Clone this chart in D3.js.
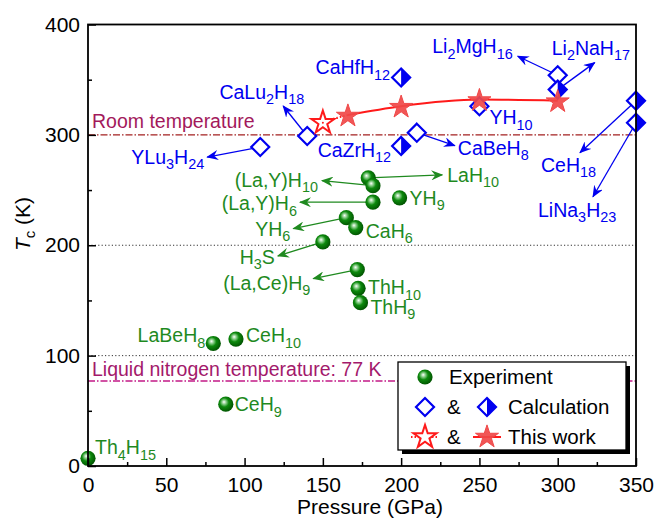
<!DOCTYPE html>
<html><head><meta charset="utf-8">
<script src="https://cdn.jsdelivr.net/npm/d3@7"></script>
<style>body{margin:0;background:#fff} svg{display:block} text{font-family:"Liberation Sans",Arial,sans-serif}</style>
</head><body><svg id="c" width="655" height="519"></svg>
<script>
// ---------- data ----------
const expNames = ["Th4H15","CeH9","LaBeH8","CeH10","ThH10","ThH9","(La,Ce)H9","H3S","YH6","CaH6","(La,Y)H6","LaH10","(La,Y)H10","YH9"];
const expP     = [0, 88, 80, 94.5, 172.5, 174, 172, 150, 165, 171, 182, 179, 182, 199];
const expTc    = [7, 56, 111, 115, 161, 148, 178, 203, 225, 216, 239, 261, 254, 243];
const calcOpenNames = ["YLu3H24","CaLu2H18","CaBeH8","YH10","Li2MgH16"];
const calcOpenP     = [110, 140, 210, 250, 300];
const calcOpenTc    = [289, 299, 302, 326, 354];
const calcHalfNames = ["CaHfH12","CaZrH12","Li2NaH17","CeH18","LiNa3H23"];
const calcHalfP     = [200, 200, 300, 350, 350];
const calcHalfTc    = [352, 290, 341, 331, 311];
const workP  = [150, 166, 200, 250, 300];
const workTc = [312, 318, 326, 332, 331];
const xTicks = [0, 50, 100, 150, 200, 250, 300, 350];
const yTicks = [0, 100, 200, 300, 400];
const roomT = 300, ln2T = 77;
const guideT = [100, 200];

// ---------- label layout (pixel offsets from the point) ----------
const layout = {
  "Th4H15":    {dx:7,   dy:-11, a:"start"},
  "CeH9":      {dx:9,   dy:0,   a:"start"},
  "LaBeH8":    {dx:-8,  dy:-8,  a:"end"},
  "CeH10":     {dx:10,  dy:-4,  a:"start"},
  "ThH10":     {dx:10,  dy:-1,  a:"start"},
  "ThH9":      {dx:10,  dy:4,   a:"start"},
  "(La,Ce)H9": {dx:-47, dy:13,  a:"end", ax:-44, ay:9},
  "H3S":       {dx:-48, dy:15,  a:"end", ax:-45, ay:14},
  "YH6":       {dx:-56, dy:11,  a:"end", ax:-53, ay:11},
  "CaH6":      {dx:10,  dy:3,   a:"start"},
  "(La,Y)H6":  {dx:-76, dy:1,   a:"end", ax:-73, ay:0},
  "LaH10":     {dx:79,  dy:-3,  a:"start", ax:74, ay:-3},
  "(La,Y)H10": {dx:-55, dy:-6,  a:"end", ax:-51, ay:-5},
  "YH9":       {dx:10,  dy:0,   a:"start"},
  "YLu3H24":   {dx:-56, dy:10,  a:"end", ax:-53, ay:10},
  "CaLu2H18":  {dx:-3,  dy:-44, a:"end", ax:-24, ay:-30},
  "CaBeH8":    {dx:41,  dy:15,  a:"start", ax:38, ay:13},
  "YH10":      {dx:10,  dy:11,  a:"start"},
  "Li2MgH16":  {dx:-45, dy:-29, a:"end", ax:-40, ay:-19},
  "CaHfH12":   {dx:-11, dy:-10, a:"end"},
  "CaZrH12":   {dx:-10, dy:4,   a:"end"},
  "Li2NaH17":  {dx:-6,  dy:-42, a:"start", ax:37, ay:-27},
  "CeH18":     {dx:-95, dy:64,  a:"start", ax:-56, ay:52},
  "LiNa3H23":  {dx:-98, dy:87,  a:"start", ax:-43, ay:74}
};

const GREEN = "#1f8a1f", BLUE = "#0000f0", RED = "#ff1a1a";
const svg = d3.select("#c");
const L = 88, R = 636, T = 24.5, B = 466;
const x = d3.scaleLinear().domain([0, 350]).range([L, R]);
const y = d3.scaleLinear().domain([0, 400]).range([B, T]);

const defs = svg.append("defs");
const g = defs.append("radialGradient").attr("id", "sph").attr("cx", "0.42").attr("cy", "0.42").attr("r", "0.6").attr("fx", "0.38").attr("fy", "0.35");
g.append("stop").attr("offset", "0").attr("stop-color", "#ffffff");
g.append("stop").attr("offset", "0.22").attr("stop-color", "#8fd08f");
g.append("stop").attr("offset", "0.5").attr("stop-color", "#0d8a0d");
g.append("stop").attr("offset", "1").attr("stop-color", "#005200");
function marker(id, col) {
  defs.append("marker").attr("id", id).attr("viewBox", "0 0 12 10").attr("refX", 11).attr("refY", 5)
    .attr("markerWidth", 12).attr("markerHeight", 10).attr("markerUnits", "userSpaceOnUse").attr("orient", "auto")
    .append("path").attr("d", "M0,0 L12,5 L0,10 L4,5 Z").attr("fill", col);
}
marker("ag", GREEN); marker("ab", BLUE);

// ---------- chemical formula text ----------
function chem(sel, name, fs) {
  const parts = name.match(/\d+|\D+/g);
  let sub = false; const sh = fs * 0.28;
  parts.forEach(p => {
    const isD = /^\d+$/.test(p);
    const t = sel.append("tspan").text(p);
    if (isD) { t.attr("font-size", fs * 0.74); if (!sub) t.attr("dy", sh); sub = true; }
    else { if (sub) t.attr("dy", -sh); sub = false; }
  });
}

// ---------- guides ----------
guideT.forEach(v => svg.append("line").attr("x1", L).attr("x2", R).attr("y1", y(v)).attr("y2", y(v))
  .attr("stroke", "#333").attr("stroke-width", 1).attr("stroke-dasharray", "1.2,2.2"));
svg.append("line").attr("x1", L).attr("x2", R).attr("y1", y(roomT)).attr("y2", y(roomT))
  .attr("stroke", "#a32020").attr("stroke-width", 1.4).attr("stroke-dasharray", "7,2,1.5,2");
svg.append("line").attr("x1", L).attr("x2", R).attr("y1", y(ln2T)).attr("y2", y(ln2T))
  .attr("stroke", "#c21a86").attr("stroke-width", 1.4).attr("stroke-dasharray", "7,2,1.5,2");
svg.append("text").attr("x", 92).attr("y", y(roomT) - 14 + 7).attr("font-size", 19.5).attr("fill", "#a3195b").text("Room temperature");
svg.append("text").attr("x", 92).attr("y", y(ln2T) - 12 + 7).attr("font-size", 19.5).attr("fill", "#a3196b").text("Liquid nitrogen temperature: 77 K");

// ---------- this work line ----------
const workPts = workP.map((p, i) => [x(p), y(workTc[i])]);
svg.append("path").attr("d", d3.line()(workPts.slice(0, 2))).attr("fill", "none").attr("stroke", RED)
  .attr("stroke-width", 2).attr("stroke-dasharray", "1.5,2");
svg.append("path").attr("d", d3.line().curve(d3.curveMonotoneX)(workPts.slice(1))).attr("fill", "none")
  .attr("stroke", RED).attr("stroke-width", 2);

// ---------- collect points ----------
const all = [];
expNames.forEach((n, i) => all.push({n, p: expP[i], t: expTc[i], kind: "exp"}));
calcOpenNames.forEach((n, i) => all.push({n, p: calcOpenP[i], t: calcOpenTc[i], kind: "open"}));
calcHalfNames.forEach((n, i) => all.push({n, p: calcHalfP[i], t: calcHalfTc[i], kind: "half"}));

// arrows
all.forEach(d => {
  const lo = layout[d.n]; if (lo.ax === undefined) return;
  const px = x(d.p), py = y(d.t), col = d.kind === "exp" ? GREEN : BLUE;
  svg.append("line").attr("x1", px).attr("y1", py).attr("x2", px + lo.ax).attr("y2", py + lo.ay)
    .attr("stroke", col).attr("stroke-width", 1.3).attr("marker-end", d.kind === "exp" ? "url(#ag)" : "url(#ab)");
});

// markers
const dia = "M0,-9 L9,0 L0,9 L-9,0 Z";
function drawSphere(sel, cx, cy) {
  sel.append("circle").attr("cx", cx).attr("cy", cy).attr("r", 7.6).attr("fill", "url(#sph)");
}
function drawOpen(sel, cx, cy) {
  sel.append("path").attr("d", dia).attr("transform", `translate(${cx},${cy})`).attr("fill", "#fff")
    .attr("stroke", BLUE).attr("stroke-width", 2.2);
}
function drawHalf(sel, cx, cy) {
  const gg = sel.append("g").attr("transform", `translate(${cx},${cy})`);
  gg.append("path").attr("d", dia).attr("fill", "#fff");
  gg.append("path").attr("d", "M0,-9 L9,0 L0,9 Z").attr("fill", BLUE);
  gg.append("path").attr("d", dia).attr("fill", "none").attr("stroke", BLUE).attr("stroke-width", 2.2);
}
const star = d3.symbol(d3.symbolStar, 165)();
function drawStar(sel, cx, cy, filled) {
  sel.append("path").attr("d", star).attr("transform", `translate(${cx},${cy + 1})`)
    .attr("fill", filled ? "#f04848" : "#fff").attr("fill-opacity", filled ? 0.92 : 1)
    .attr("stroke", filled ? "#f04848" : RED).attr("stroke-width", filled ? 1 : 2);
}
all.forEach(d => {
  const px = x(d.p), py = y(d.t);
  if (d.kind === "exp") drawSphere(svg, px, py);
  else if (d.kind === "open") drawOpen(svg, px, py);
  else drawHalf(svg, px, py);
});
workPts.forEach((q, i) => {
  drawStar(svg, q[0], q[1], i > 0);
  if (i === 0) svg.append("circle").attr("cx", q[0]).attr("cy", q[1] + 1).attr("r", 1).attr("fill", RED);
});

// labels
all.forEach(d => {
  const lo = layout[d.n]; const px = x(d.p), py = y(d.t);
  const t = svg.append("text").attr("x", px + lo.dx).attr("y", py + lo.dy + 7).attr("text-anchor", lo.a)
    .attr("font-size", 19.5).attr("fill", d.kind === "exp" ? GREEN : BLUE);
  chem(t, d.n, 19.5);
});

// ---------- axes ----------
svg.append("g").attr("transform", `translate(0,${B})`)
  .call(d3.axisBottom(x).tickValues(xTicks).tickSize(-8).tickPadding(11).tickFormat(d3.format("d")));
svg.append("g").attr("transform", `translate(0,${B})`)
  .call(d3.axisBottom(x).tickValues(d3.range(25, 350, 50)).tickSize(-4).tickFormat(""))
  .call(s => s.select(".domain").remove());
svg.append("g").attr("transform", `translate(${L},0)`)
  .call(d3.axisLeft(y).tickValues(yTicks).tickSize(-8).tickPadding(8).tickFormat(d3.format("d")));
svg.append("g").attr("transform", `translate(${L},0)`)
  .call(d3.axisLeft(y).tickValues(d3.range(50, 400, 100)).tickSize(-4).tickFormat(""))
  .call(s => s.select(".domain").remove());
svg.selectAll(".tick line").attr("stroke", "#000").attr("stroke-width", 1.5);
svg.selectAll(".tick text").attr("font-size", 21).attr("fill", "#000").attr("font-family", '"Liberation Sans",Arial,sans-serif');
svg.selectAll(".domain").attr("stroke", "none");
svg.append("rect").attr("x", L).attr("y", T).attr("width", R - L).attr("height", B - T)
  .attr("fill", "none").attr("stroke", "#000").attr("stroke-width", 1.8);

svg.append("text").attr("x", 370).attr("y", 514).attr("text-anchor", "middle").attr("font-size", 21).text("Pressure (GPa)");
const yt = svg.append("text").attr("transform", "translate(30,224) rotate(-90)").attr("text-anchor", "middle").attr("font-size", 21);
yt.append("tspan").attr("font-style", "italic").text("T");
yt.append("tspan").attr("font-size", 15).attr("dy", 5).text("c");
yt.append("tspan").attr("dy", -5).text(" (K)");

// ---------- legend ----------
const lg = svg.append("g");
lg.append("rect").attr("x", 402).attr("y", 366).attr("width", 228).attr("height", 88).attr("fill", "#000");
lg.append("rect").attr("x", 398).attr("y", 362).attr("width", 228).attr("height", 88).attr("fill", "#fff")
  .attr("stroke", "#000").attr("stroke-width", 1.3);
drawSphere(lg, 425, 377);
lg.append("text").attr("x", 449).attr("y", 384).attr("font-size", 20.5).text("Experiment");
drawOpen(lg, 425, 407);
lg.append("text").attr("x", 447).attr("y", 414).attr("font-size", 20.5).text("&");
drawHalf(lg, 487, 407);
lg.append("text").attr("x", 508).attr("y", 414).attr("font-size", 20.5).text("Calculation");
lg.append("line").attr("x1", 411).attr("x2", 439).attr("y1", 437).attr("y2", 437).attr("stroke", RED).attr("stroke-width", 2).attr("stroke-dasharray", "1.5,2");
drawStar(lg, 425, 436, false);
lg.append("text").attr("x", 447).attr("y", 444).attr("font-size", 20.5).text("&");
lg.append("line").attr("x1", 473).attr("x2", 501).attr("y1", 437).attr("y2", 437).attr("stroke", RED).attr("stroke-width", 2);
drawStar(lg, 487, 436, true);
lg.append("text").attr("x", 508).attr("y", 444).attr("font-size", 20.5).text("This work");
</script></body></html>
